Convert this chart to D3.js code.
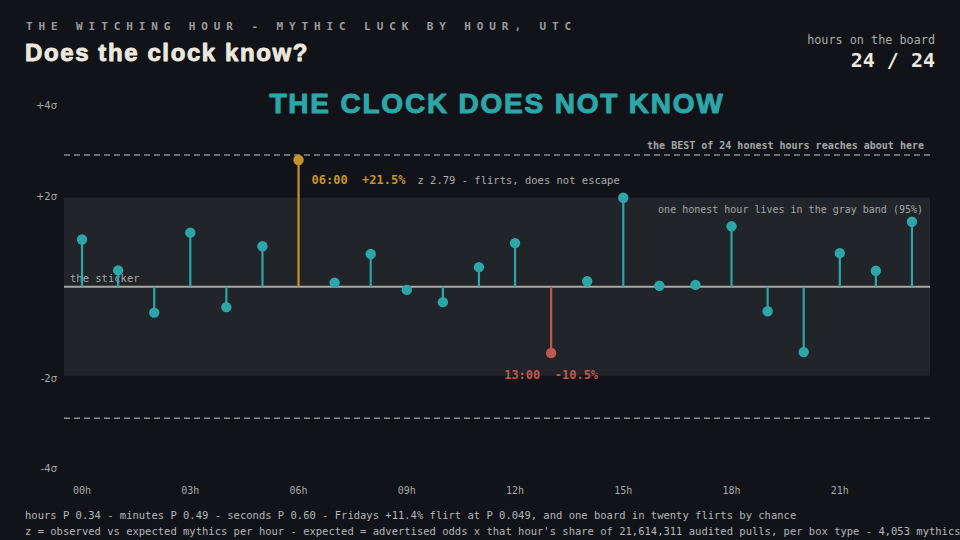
<!DOCTYPE html>
<html><head><meta charset="utf-8">
<script src="https://cdn.jsdelivr.net/npm/d3@7"></script>
<style>
html,body{margin:0;padding:0;background:#111318;}
svg{display:block;}
</style></head>
<body>
<svg id="c" width="960" height="540"></svg>
<script>
const hours = d3.range(24);
const zScores = [1.04, 0.36, -0.57, 1.19, -0.45, 0.89, 2.79, 0.09, 0.72, -0.07, -0.34, 0.43,
                 0.96, -1.46, 0.12, 1.96, 0.02, 0.04, 1.33, -0.54, -1.44, 0.74, 0.35, 1.43];
const yTicks = [4, 2, -2, -4];
const xTickHours = [0, 3, 6, 9, 12, 15, 18, 21];
const bandLimit = 1.96;
const bestLimit = 2.9;
const highHour = 6, lowHour = 13;
const highLabel = "06:00  +21.5%", highNote = "z 2.79 - flirts, does not escape";
const lowLabel = "13:00  -10.5%";
const footer1 = "hours P 0.34 - minutes P 0.49 - seconds P 0.60 - Fridays +11.4% flirt at P 0.049, and one board in twenty flirts by chance";
const footer2 = "z = observed vs expected mythics per hour - expected = advertised odds x that hour's share of 21,614,311 audited pulls, per box type - 4,053 mythics";

const mono = "'DejaVu Sans Mono', monospace";
const sans = "'Liberation Sans', Arial, sans-serif";
const TEAL = "#2ca6a9", GOLD = "#c6922a", RED = "#c0584b";

const svg = d3.select("#c");
const x = d3.scaleBand().domain(hours).range([64, 930]);
const y = d3.scaleLinear().domain([-4, 4]).range([468.3, 105.1]);
const cx = h => x(h) + x.bandwidth() / 2;

// header
svg.append("text").attr("x", 26).attr("y", 30).attr("fill", "#9a9c9f")
  .attr("font-family", mono).attr("font-size", 11).attr("font-weight", "bold")
  .attr("letter-spacing", 5.9).text("THE WITCHING HOUR - MYTHIC LUCK BY HOUR, UTC");
svg.append("text").attr("x", 25).attr("y", 61).attr("fill", "#ece8df")
  .attr("stroke", "#ece8df").attr("stroke-width", 0.9).attr("stroke-linejoin", "round")
  .attr("font-family", sans).attr("font-size", 24).attr("font-weight", 900)
  .attr("letter-spacing", 1.6).text("Does the clock know?");
svg.append("text").attr("x", 935).attr("y", 44).attr("text-anchor", "end").attr("fill", "#a9abad")
  .attr("font-family", mono).attr("font-size", 11.8).text("hours on the board");
svg.append("text").attr("x", 935).attr("y", 67).attr("text-anchor", "end").attr("fill", "#ece8df")
  .attr("font-family", mono).attr("font-size", 20).attr("font-weight", "bold").text("24 / 24");
svg.append("text").attr("x", 497).attr("y", 113).attr("text-anchor", "middle").attr("fill", TEAL)
  .attr("stroke", TEAL).attr("stroke-width", 1).attr("stroke-linejoin", "round")
  .attr("font-family", sans).attr("font-size", 28).attr("font-weight", 900)
  .attr("letter-spacing", 1.8).text("THE CLOCK DOES NOT KNOW");

// gray band
svg.append("rect").attr("x", 64).attr("width", 866)
  .attr("y", y(bandLimit)).attr("height", y(-bandLimit) - y(bandLimit)).attr("fill", "#212529");

// dashed best lines
[bestLimit, -bestLimit].forEach(v => {
  svg.append("line").attr("x1", 64).attr("x2", 930).attr("y1", y(v)).attr("y2", y(v))
    .attr("stroke", "#8a8c8e").attr("stroke-width", 1.5).attr("stroke-dasharray", "6,4");
});

// y tick labels
svg.selectAll(".yt").data(yTicks).join("text").attr("x", 57).attr("y", d => y(d) + 4)
  .attr("text-anchor", "end").attr("fill", "#a7a9ab").attr("font-family", "'DejaVu Sans', sans-serif")
  .attr("font-size", 10).text(d => (d > 0 ? "+" : "-") + Math.abs(d) + "σ");

// annotations
svg.append("text").attr("x", 924).attr("y", y(bestLimit) - 6).attr("text-anchor", "end")
  .attr("fill", "#a4a6a8").attr("font-family", mono).attr("font-size", 10).attr("font-weight", "bold")
  .text("the BEST of 24 honest hours reaches about here");
svg.append("text").attr("x", 923).attr("y", y(bandLimit) + 15).attr("text-anchor", "end")
  .attr("fill", "#a4a6a8").attr("font-family", mono).attr("font-size", 10)
  .text("one honest hour lives in the gray band (95%)");

// zero line
svg.append("line").attr("x1", 64).attr("x2", 930).attr("y1", y(0)).attr("y2", y(0))
  .attr("stroke", "#a9a69d").attr("stroke-width", 2);
svg.append("text").attr("x", 70).attr("y", y(0) - 5).attr("fill", "#a4a6a8")
  .attr("font-family", mono).attr("font-size", 10.5).text("the sticker");

const col = h => h === highHour ? GOLD : (h === lowHour ? RED : TEAL);
const data = hours.map(h => ({h, z: zScores[h]}));
svg.selectAll(".stem").data(data).join("line")
  .attr("x1", d => cx(d.h)).attr("x2", d => cx(d.h))
  .attr("y1", y(0)).attr("y2", d => y(d.z))
  .attr("stroke", d => col(d.h)).attr("stroke-width", 2.2);
svg.selectAll(".dot").data(data).join("circle")
  .attr("cx", d => cx(d.h)).attr("cy", d => y(d.z)).attr("r", 5.2)
  .attr("fill", d => col(d.h));

// callouts
const hi = svg.append("text").attr("x", cx(highHour) + 13).attr("y", y(zScores[highHour]) + 24)
  .attr("font-family", mono).attr("xml:space", "preserve");
hi.append("tspan").attr("fill", GOLD).attr("font-size", 12).attr("font-weight", "bold").text(highLabel);
hi.append("tspan").attr("fill", "#a9abad").attr("font-size", 10.5).attr("dx", 12).text(highNote);
svg.append("text").attr("x", cx(lowHour)).attr("y", y(zScores[lowHour]) + 26)
  .attr("text-anchor", "middle").attr("fill", RED).attr("font-family", mono)
  .attr("font-size", 12).attr("font-weight", "bold").attr("xml:space", "preserve").text(lowLabel);

// x tick labels
svg.selectAll(".xt").data(xTickHours).join("text").attr("x", d => cx(d)).attr("y", 494)
  .attr("text-anchor", "middle").attr("fill", "#a7a9ab").attr("font-family", mono)
  .attr("font-size", 10).text(d => String(d).padStart(2, "0") + "h");

// footer
svg.append("text").attr("x", 25).attr("y", 519).attr("fill", "#b4b6b8")
  .attr("font-family", mono).attr("font-size", 10.5).text(footer1);
svg.append("text").attr("x", 25).attr("y", 535).attr("fill", "#b4b6b8")
  .attr("font-family", mono).attr("font-size", 10.5).text(footer2);
</script>
</body></html>
